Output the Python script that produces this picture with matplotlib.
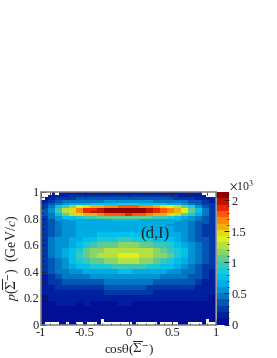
import numpy as np
import matplotlib
matplotlib.use("Agg")
import matplotlib.pyplot as plt
from matplotlib.colors import ListedColormap, BoundaryNorm
from matplotlib.ticker import MultipleLocator

plt.rcParams['font.family'] = ['Liberation Serif', 'DejaVu Sans']
plt.rcParams['mathtext.fontset'] = 'stix'
plt.rcParams['axes.unicode_minus'] = False

W, H = 277, 358

# counts / 10, rows from the top of the plot downwards
# 0.94 - 1.00, 50 bins in cos(theta), 0 = empty bin
top_rows = [
    [0,0,0,12,0,12,12,12,14,14,14,14,14,14,14,14,14,14,14,14,14,16,16,16,16,16,16,16,16,16,14,14,14,14,14,14,14,14,12,12,12,12,12,12,12,12,0,0,0,0],
    [0,0,12,14,16,18,18,20,22,22,24,24,24,26,26,26,26,26,26,28,28,28,28,28,28,28,28,28,26,26,26,26,26,26,24,24,22,22,22,20,20,18,18,16,14,12,12,0,0,0],
    [0,14,16,20,22,24,26,26,28,30,32,34,34,36,36,36,38,38,38,38,38,40,40,40,40,40,38,38,38,38,38,36,36,34,34,34,32,32,30,30,28,26,24,22,20,18,16,14,12,12],
]

# 0.04 - 0.94, 25 bins in cos(theta)
main_rows = [
    [20,28,38,44,46,48,48,50,50,52,52,52,54,52,52,52,50,48,48,46,44,40,32,24,18],
    [24,36,48,56,62,66,70,74,76,78,80,82,84,82,80,78,76,72,68,64,58,50,40,30,22],
    [30,44,74,96,112,132,146,154,162,168,172,176,178,176,172,166,158,150,140,128,108,84,60,38,26],
    [32,52,96,130,150,172,186,192,198,204,208,212,212,210,206,198,188,176,168,156,136,110,74,44,28],
    [32,54,98,130,150,172,186,194,200,206,210,212,212,210,208,200,190,180,170,156,134,108,74,46,28],
    [32,50,80,104,122,142,154,162,170,174,178,182,184,182,178,172,162,154,144,130,110,88,62,42,26],
    [30,44,60,72,80,88,92,98,102,104,108,110,110,110,106,102,98,94,88,80,70,60,48,36,24],
    [28,40,52,58,62,64,66,68,70,70,72,72,72,72,70,70,68,66,64,62,58,52,42,32,24],
    [28,40,50,56,60,62,64,66,66,66,68,68,68,68,66,66,64,64,62,60,56,50,40,32,24],
    [28,40,50,56,60,62,64,64,64,66,66,66,66,66,64,64,62,62,60,58,54,48,38,30,24],
    [28,40,50,56,60,62,64,66,66,68,68,68,68,68,68,66,64,64,62,60,56,48,38,30,24],
    [28,40,50,56,60,66,68,70,72,74,74,76,76,76,74,72,70,68,64,62,56,48,38,30,24],
    [28,42,52,58,64,70,76,80,84,86,90,92,92,90,88,84,80,76,72,66,58,50,40,32,24],
    [28,42,52,60,70,80,90,96,102,106,110,112,114,114,110,106,100,94,84,74,64,52,42,32,24],
    [28,42,52,62,76,90,104,112,118,122,126,128,130,130,126,122,116,108,98,86,72,56,42,32,24],
    [28,42,52,64,78,92,106,116,122,126,130,132,134,134,130,126,120,112,102,88,72,56,42,32,24],
    [28,40,50,60,74,86,96,104,110,114,118,122,124,122,118,114,108,100,90,78,66,54,42,32,24],
    [26,38,48,56,64,72,78,84,88,90,92,94,96,94,92,88,84,80,74,66,58,50,40,30,22],
    [24,34,44,50,54,58,62,64,66,68,70,72,72,70,68,66,64,62,60,56,50,44,36,28,20],
    [20,30,38,42,44,48,50,52,52,54,56,56,56,56,54,52,52,50,48,44,42,38,32,24,16],
    [16,24,30,34,36,38,40,40,40,42,42,44,44,42,42,42,40,40,38,36,34,32,26,20,14],
    [14,18,24,26,28,28,30,30,30,32,32,32,32,32,32,30,30,30,28,28,26,24,20,16,12],
    [12,14,16,18,20,20,20,20,20,22,22,22,22,22,22,22,20,20,20,20,18,18,16,13,11],
    [10,12,12,13,14,13,14,13,14,13,13,14,13,13,14,13,13,14,14,13,13,13,12,11,9],
    [8,10,11,11,11,10,11,10,10,10,10,11,11,10,10,10,10,10,10,10,10,10,10,8,8],
    [4,6,6,8,8,6,8,6,6,8,6,6,8,6,8,6,6,8,6,6,8,6,6,6,4],
    [4,4,6,6,8,6,6,6,8,6,6,6,6,6,6,8,6,6,6,6,6,6,6,4,4],
    [4,4,4,6,6,6,6,6,6,6,6,6,6,6,6,6,6,6,6,6,6,6,4,4,4],
    [4,4,4,4,4,4,4,4,4,4,4,4,4,4,4,4,4,4,4,4,4,4,4,4,4],
]
main_edges = [0.94,0.92,0.90,0.88,0.86,0.84,0.82,0.80,0.78,0.76,0.74,0.70,0.66,0.62,0.58,0.54,0.50,0.46,0.42,0.38,0.34,0.30,0.26,0.22,0.18,0.14,0.10,0.08,0.06,0.04]

# 0.00 - 0.04, 50 bins
bottom_rows = [
    [2,2,2,2,2,2,2,2,2,2,2,2,2,2,2,2,2,0,2,2,2,2,2,2,2,2,2,2,2,2,2,2,2,2,2,2,2,2,2,2,2,2,2,2,2,2,2,0,2,2],
    [2,0,0,0,0,2,2,0,2,2,0,0,2,0,0,0,2,0,0,0,0,0,0,0,0,0,2,0,0,0,0,0,0,2,0,0,0,0,0,2,2,2,0,0,0,0,2,0,0,0],
]

palette = ['#000f96', '#001ea0', '#0038a8', '#0058b4', '#0078c4', '#0094d4', '#00ace4', '#00c0ec',
           '#1cc8d8', '#3cc8b4', '#60cc90', '#8cd468', '#b4e040', '#dcf020', '#e8d814', '#f0b010',
           '#f88808', '#ff5800', '#e82800', '#c01000', '#900000']

x_tick_labels = ['-1', '-0.5', '0', '0.5', '1']
x_ticks = [-1, -0.5, 0, 0.5, 1]
y_ticks = [0, 0.2, 0.4, 0.6, 0.8, 1]
y_tick_labels = ['0', '0.2', '0.4', '0.6', '0.8', '1']
cbar_ticks = [0, 500, 1000, 1500, 2000]
cbar_tick_labels = ['0', '0.5', '1', '1.5', '2']

FRAME = '#808080'
INK = '#222222'


def draw_block(ax, rows, y_edges, cmap, norm):
    z = np.array(rows, dtype=float) * 10
    z = np.ma.masked_where(z == 0, z)
    x_edges = np.linspace(-1, 1, z.shape[1] + 1)
    return ax.pcolormesh(x_edges, y_edges, z, cmap=cmap, norm=norm, linewidth=0)


fig = plt.figure(figsize=(W / 100, H / 100), dpi=100)
ax = fig.add_axes([41 / W, 1 - 324.5 / H, 175 / W, 132.5 / H])
cax = fig.add_axes([217 / W, 1 - 324.5 / H, 12 / W, 132.5 / H])

cmap = ListedColormap(palette)
cmap.set_bad('white')
norm = BoundaryNorm(np.linspace(0, 2130, len(palette) + 1), len(palette))

mesh = draw_block(ax, main_rows, main_edges, cmap, norm)
draw_block(ax, top_rows, [1.0, 0.98, 0.96, 0.94], cmap, norm)
draw_block(ax, bottom_rows, [0.04, 0.02, 0.0], cmap, norm)

ax.set_xlim(-1, 1)
ax.set_ylim(0, 1)
ax.set_xticks(x_ticks)
ax.set_xticklabels(x_tick_labels)
ax.set_yticks(y_ticks)
ax.set_yticklabels(y_tick_labels)
ax.xaxis.set_minor_locator(MultipleLocator(0.1))
ax.yaxis.set_minor_locator(MultipleLocator(0.04))
ax.tick_params(which='major', direction='in', top=True, length=3.5, width=0.7, color=INK,
               labelsize=9, labelcolor=INK, pad=1.5)
ax.tick_params(which='minor', direction='in', top=True, length=1.8, width=0.6, color=INK)
for spine in ax.spines.values():
    spine.set_color(FRAME)
    spine.set_linewidth(1.1)

ax.set_xlabel(r'cos$\mathrm{\theta}$($\overline{\Sigma}^{-}$)', fontsize=9.5, color=INK)
ax.xaxis.set_label_coords(0.503, -15 / 132.5, transform=ax.transAxes)
ax.set_ylabel(r'$p$($\overline{\Sigma}^{-}$)  (GeV/$c$)', fontsize=10, color=INK)
ax.yaxis.set_label_coords(-20 / 175, 0.5, transform=ax.transAxes)
ax.text(0.65, 0.69, '(d,I)', fontsize=12, color=INK, ha='center', va='center', transform=ax.transAxes)

cbar = fig.colorbar(mesh, cax=cax, ticks=cbar_ticks, spacing='proportional', drawedges=False)
cbar.ax.set_yticklabels(cbar_tick_labels)
cbar.ax.tick_params(which='major', direction='in', length=3.5, width=0.7, color=INK,
                    labelsize=9, labelcolor=INK, pad=1.5)
cbar.ax.yaxis.set_minor_locator(MultipleLocator(100))
cbar.ax.tick_params(which='minor', direction='in', length=1.8, width=0.6, color=INK)
cbar.outline.set_visible(False)
fig.text(229 / W, 1 - 186 / H, r'$\times$10$^{3}$', fontsize=8.5, color=INK, ha='left', va='center')

fig.savefig('out.png', dpi=100)
